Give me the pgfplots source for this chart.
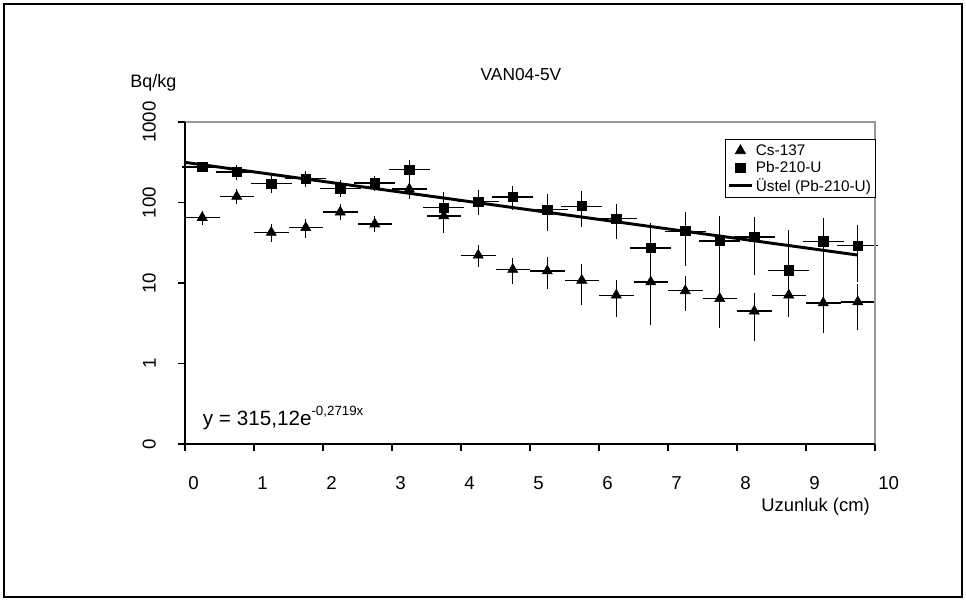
\documentclass[border=0pt]{standalone}
\usepackage{pgfplots}
\pgfplotsset{compat=1.18}
\usepackage{fontspec}
\setmainfont{Liberation Sans}
\begin{document}
\begin{tikzpicture}
% picture is 966x601 px, 1 px = 0.75pt
\path[use as bounding box] (0,0) rectangle (724.5pt,450.75pt);
\draw[black, line width=1.2pt] (3pt,3pt) rectangle (721.5pt,447.75pt);
\begin{axis}[
    at={(138.75pt,117.75pt)}, anchor=south west,
    scale only axis,
    width=517.5pt, height=241.5pt,
    xmin=0, xmax=10,
    ymode=log, ymin=0.1, ymax=1000,
    xtick={0,...,10},
    xticklabels={0,1,2,3,4,5,6,7,8,9,10},
    ytick={0.1,1,10,100,1000},
    yticklabels={0,1,10,100,1000},
    yminorticks=false,
    tick pos=left,
    tick align=outside,
    major tick length=5pt,
    tick style={black, line width=0.8pt},
    axis line style={draw=none},
    ticklabel style={font=\fontsize{14}{16}\selectfont, inner sep=0pt},
    xticklabel style={anchor=north west, xshift=2.25pt},
    xticklabel shift=19.5pt,
    yticklabel style={rotate=90, anchor=south},
    yticklabel shift=16.7pt,
    clip=false,
    legend style={at={(1,1)}, anchor=north east, xshift=0.75pt, yshift=-13pt,
        draw=black, line width=0.6pt, inner sep=1.5pt, row sep=-1pt,
        font=\fontsize{11.5}{13}\selectfont},
    legend cell align=left,
]
% Cs-137, horizontal bars (no caps)
\addplot[forget plot, only marks, mark=none,
    error bars/.cd, x dir=both, x explicit, error mark=none,
    error bar style={black, line width=1pt}]
coordinates {
(0.25,65) +- (0.25,0)
(0.75,119) +- (0.25,0)
(1.25,42.4) +- (0.25,0)
(1.75,48.6) +- (0.25,0)
(2.25,76) +- (0.25,0)
(2.75,54) +- (0.25,0)
(3.25,147) +- (0.25,0)
(3.75,68) +- (0.25,0)
(4.25,22.1) +- (0.25,0)
(4.75,14.7) +- (0.25,0)
(5.25,14.1) +- (0.25,0)
(5.75,10.8) +- (0.25,0)
(6.25,7.06) +- (0.25,0)
(6.75,10.3) +- (0.25,0)
(7.25,8.0) +- (0.25,0)
(7.75,6.4) +- (0.25,0)
(8.25,4.47) +- (0.25,0)
(8.75,7.06) +- (0.25,0)
(9.25,5.66) +- (0.25,0)
(9.75,5.83) +- (0.25,0)
};
% Cs-137, markers and vertical bars
\addplot[only marks, mark=triangle*, mark size=4.4pt, black,
    error bars/.cd, y dir=both, y explicit,
    error bar style={black, line width=1pt},
    error mark options={black, line width=1pt, mark size=2.5pt}]
coordinates {
(0.25,65) +- (0,7)
(0.75,119) +- (0,14)
(1.25,42.4) +- (0,7)
(1.75,48.6) +- (0,8.5)
(2.25,76) +- (0,10)
(2.75,54) +- (0,7)
(3.25,147) +- (0,24)
(3.75,68) +- (0,21.5)
(4.25,22.1) +- (0,4.7)
(4.75,14.7) +- (0,3.9)
(5.25,14.1) +- (0,4.9)
(5.75,10.8) +- (0,5)
(6.25,7.06) +- (0,2.9)
(6.75,10.3) +- (0,3.1)
(7.25,8.0) +- (0,3)
(7.75,6.4) +- (0,3.4)
(8.25,4.47) +- (0,2.4)
(8.75,7.06) +- (0,2.9)
(9.25,5.66) +- (0,3)
(9.75,5.83) +- (0,2.95)
};
\addlegendentry{Cs-137}
% Pb-210-U
\addplot[only marks, mark=square*, mark size=3.4pt, black,
    error bars/.cd, x dir=both, x explicit, y dir=both, y explicit,
    error bar style={black, line width=1pt},
    error mark options={black, line width=1pt, mark size=2.5pt}]
coordinates {
(0.25,276) +- (0.25,15)
(0.75,239) +- (0.25,28)
(1.25,172) +- (0.25,26)
(1.75,197) +- (0.25,28)
(2.25,150) +- (0.25,23)
(2.75,174) +- (0.25,21)
(3.25,256) +- (0.25,50)
(3.75,86) +- (0.25,37)
(4.25,103) +- (0.25,27)
(4.75,117) +- (0.25,27)
(5.25,82) +- (0.25,33)
(5.75,90) +- (0.25,35)
(6.25,63) +- (0.25,24)
(6.75,27.3) +- (0.25,24)
(7.25,44) +- (0.25,26)
(7.75,33.3) +- (0.25,28.4)
(8.25,37.3) +- (0.25,23.5)
(8.75,14.4) += (0.25,27) -= (0.25,10)
(9.25,33) +- (0.25,26)
(9.75,29.4) +- (0.25,18)
};
\addlegendentry{Pb-210-U}
% exponential trend line (straight on log axis): end points
\addplot[black, line width=2.2pt, mark=none] coordinates {(0,315.12) (9.75,22.24)};
\addlegendentry{Üstel (Pb-210-U)}
% plot area border
\draw[black!40, line width=0.8pt] (rel axis cs:0,1) -- (rel axis cs:1,1) -- (rel axis cs:1,0);
\draw[black, line width=1pt] (rel axis cs:0,1) -- (rel axis cs:0,0) -- (rel axis cs:1,0);
\end{axis}
\node[font=\fontsize{13}{15}\selectfont] at (390.75pt,394.5pt) {VAN04-5V};
\node[anchor=base west, inner sep=0pt, font=\fontsize{13.5}{15}\selectfont] at (97.5pt,384.75pt) {Bq/kg};
\node[anchor=base east, inner sep=0pt, font=\fontsize{13.8}{16}\selectfont] at (652.5pt,67pt) {Uzunluk (cm)};
\node[anchor=base west, inner sep=0pt, font=\fontsize{15.5}{18}\selectfont] at (152pt,131.5pt)
    {y = 315,12e\raisebox{8pt}{\fontsize{10}{12}\selectfont -0,2719x}};
\end{tikzpicture}
\end{document}
